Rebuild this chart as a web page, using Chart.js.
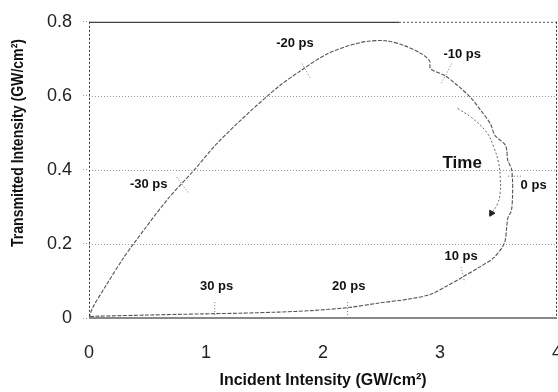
<!DOCTYPE html>
<html>
<head>
<meta charset="UTF-8">
<title>Transmitted vs incident intensity</title>
<style>
  html, body { margin: 0; padding: 0; background: #fff; overflow: hidden; }
  #chart { display: block; }
</style>
</head>
<body>
<canvas id="chart" width="558" height="392"></canvas>
<script src="https://cdn.jsdelivr.net/npm/chart.js@4"></script>
<script>
// transmission loop (GW/cm2)
const incident    = [0, 0.03, 0.15, 0.29, 0.38, 0.67, 0.90, 1.09, 1.35, 1.62, 1.81, 2.04, 2.32, 2.53, 2.70, 2.84, 2.91, 2.92, 3.04, 3.15, 3.26, 3.35, 3.43, 3.47, 3.56, 3.58, 3.61, 3.62, 3.62, 3.61, 3.58, 3.57, 3.55, 3.46, 3.34, 3.19, 3.05, 2.92, 2.75, 2.47, 2.21, 1.90, 1.62, 1.29, 0.95, 0.50, 0.09, 0.01];
const transmitted = [0, 0.027, 0.09, 0.16, 0.20, 0.32, 0.40, 0.47, 0.55, 0.625, 0.668, 0.714, 0.744, 0.749, 0.735, 0.714, 0.695, 0.673, 0.655, 0.628, 0.596, 0.56, 0.525, 0.493, 0.466, 0.425, 0.404, 0.372, 0.33, 0.29, 0.27, 0.245, 0.202, 0.163, 0.138, 0.11, 0.085, 0.064, 0.052, 0.040, 0.028, 0.020, 0.016, 0.013, 0.011, 0.008, 0.005, 0.004];

// time markers on the loop
const markNames = ['-30 ps', '-20 ps', '-10 ps', '0 ps', '10 ps', '20 ps', '30 ps'];
const markLabelX = [0.51, 1.76, 3.19, 3.80, 3.18, 2.22, 1.09];
const markLabelY = [0.361, 0.741, 0.711, 0.358, 0.167, 0.084, 0.084];
const markTickX1 = [0.75, 1.82, 3.10, 3.58, 3.18, 2.21, 1.075];
const markTickY1 = [0.380, 0.687, 0.687, 0.383, 0.137, 0.043, 0.043];
const markTickX2 = [0.85, 1.89, 3.01, 3.70, 3.21, 2.21, 1.075];
const markTickY2 = [0.339, 0.649, 0.633, 0.383, 0.097, 0.0, 0.0];

// "Time" arrow
const arrowX = [3.15, 3.27, 3.40, 3.46, 3.50, 3.515, 3.515, 3.49, 3.44];
const arrowY = [0.566, 0.541, 0.501, 0.461, 0.420, 0.377, 0.339, 0.307, 0.283];
const arrowText = 'Time';
const arrowTextX = 3.19, arrowTextY = 0.418;

const xTicks = [0, 1, 2, 3, 4];
const yTicks = [0, 0.2, 0.4, 0.6, 0.8];
const xTitle = 'Incident Intensity (GW/cm\u00B2)';
const yTitle = 'Transmitted Intensity (GW/cm\u00B2)';

const FONT = '"Liberation Sans", Arial, sans-serif';

const datasets = [{
  data: incident.map((x, i) => ({ x: x, y: transmitted[i] })),
  showLine: true, borderColor: '#555', borderWidth: 1.1, borderDash: [4, 1.5],
  pointRadius: 0, tension: 0.3
}, {
  data: arrowX.map((x, i) => ({ x: x, y: arrowY[i] })),
  showLine: true, borderColor: '#666', borderWidth: 1, borderDash: [2, 2],
  tension: 0.4,
  pointRadius: arrowX.map((_, i) => i === arrowX.length - 1 ? 3.5 : 0),
  pointStyle: 'triangle', pointRotation: 210,
  pointBackgroundColor: '#222', pointBorderColor: '#222'
}];
markNames.forEach((n, i) => {
  datasets.push({
    data: [{ x: markTickX1[i], y: markTickY1[i] }, { x: markTickX2[i], y: markTickY2[i] }],
    showLine: true, borderColor: '#777', borderWidth: 1, borderDash: [1, 2], pointRadius: 0
  });
});

const decor = {
  id: 'decor',
  beforeDatasetsDraw(chart) {
    const { ctx, chartArea: a, scales: { y } } = chart;
    ctx.save();
    ctx.strokeStyle = '#999';
    ctx.lineWidth = 1;
    ctx.setLineDash([1, 2]);
    yTicks.slice(1, -1).forEach(v => {
      const py = Math.round(y.getPixelForValue(v)) + 0.5;
      ctx.beginPath(); ctx.moveTo(a.left, py); ctx.lineTo(a.right, py); ctx.stroke();
    });
    ctx.restore();
  },
  afterDatasetsDraw(chart) {
    const { ctx, chartArea: a, scales: { x, y } } = chart;
    ctx.save();
    // frame
    ctx.lineWidth = 1;
    ctx.strokeStyle = '#111';
    const t = a.top + 0.5, xm = x.getPixelForValue(2.65);
    ctx.beginPath(); ctx.moveTo(a.left, t); ctx.lineTo(xm, t); ctx.stroke();
    ctx.setLineDash([2, 2]);
    ctx.strokeStyle = '#555';
    ctx.beginPath(); ctx.moveTo(xm, t); ctx.lineTo(a.right, t); ctx.stroke();
    ctx.strokeStyle = '#333';
    ctx.beginPath(); ctx.moveTo(a.left + 0.5, a.top); ctx.lineTo(a.left + 0.5, a.bottom); ctx.stroke();
    ctx.beginPath(); ctx.moveTo(a.right - 0.5, a.top); ctx.lineTo(a.right - 0.5, a.bottom); ctx.stroke();
    ctx.setLineDash([]);
    ctx.strokeStyle = '#888';
    ctx.lineWidth = 2;
    ctx.beginPath(); ctx.moveTo(a.left, a.bottom); ctx.lineTo(a.right, a.bottom); ctx.stroke();

    ctx.textAlign = 'center';
    ctx.textBaseline = 'middle';
    // x tick labels (last one runs off the page edge as in the original)
    ctx.fillStyle = '#222';
    ctx.font = '18px ' + FONT;
    xTicks.forEach(v => ctx.fillText(String(v), x.getPixelForValue(v), 353));

    // marker labels
    ctx.fillStyle = '#111';
    ctx.font = 'bold 13px ' + FONT;
    markNames.forEach((n, i) => {
      ctx.fillText(n, x.getPixelForValue(markLabelX[i]), y.getPixelForValue(markLabelY[i]));
    });
    ctx.font = 'bold 17px ' + FONT;
    ctx.fillText(arrowText, x.getPixelForValue(arrowTextX), y.getPixelForValue(arrowTextY));

    // axis titles
    ctx.font = 'bold 16px ' + FONT;
    ctx.fillText(xTitle, (a.left + a.right) / 2, 381, 218);
    ctx.translate(19, 143);
    ctx.rotate(-Math.PI / 2);
    ctx.fillText(yTitle, 0, 0, 208);
    ctx.restore();
  }
};

new Chart(document.getElementById('chart'), {
  type: 'scatter',
  data: { datasets: datasets },
  plugins: [decor],
  options: {
    responsive: false,
    animation: false,
    layout: { autoPadding: false, padding: { top: 21, right: 1, left: 0, bottom: 0 } },
    plugins: { legend: { display: false }, tooltip: { enabled: false } },
    scales: {
      x: {
        type: 'linear', min: 0, max: 4,
        afterBuildTicks: s => { s.ticks = xTicks.map(v => ({ value: v })); },
        afterFit: s => { s.height = 74; s.paddingLeft = 0; s.paddingRight = 0; },
        grid: { display: false },
        border: { display: false },
        ticks: { display: false }
      },
      y: {
        type: 'linear', min: 0, max: 0.8,
        afterBuildTicks: s => { s.ticks = yTicks.map(v => ({ value: v })); },
        afterFit: s => { s.width = 89; },
        grid: { drawOnChartArea: false, drawTicks: true, tickLength: 6, tickColor: '#999', tickBorderDash: [1, 2] },
        border: { display: false },
        ticks: { padding: 11, color: '#222', font: { family: FONT, size: 18 }, callback: v => String(Math.round(v * 10) / 10) }
      }
    }
  }
});
</script>
</body>
</html>
